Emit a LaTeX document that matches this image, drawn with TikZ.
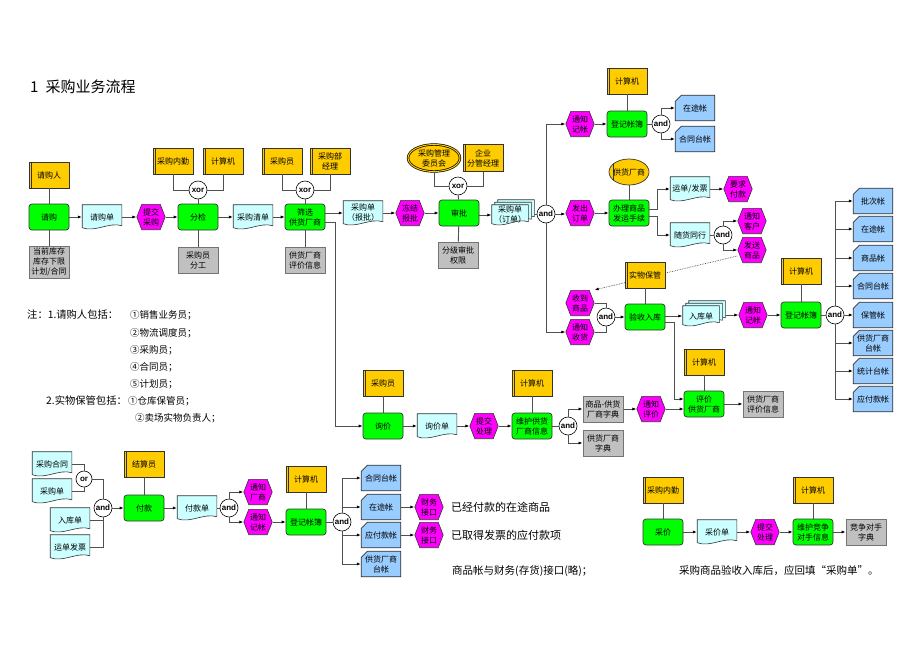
\documentclass[tikz,border=0pt]{standalone}
\usepackage{fontspec}
\setmainfont{Noto Sans CJK SC}
\newfontfamily\latsans{Liberation Sans}
\usetikzlibrary{arrows.meta,shapes.geometric,backgrounds}
\definecolor{fgreen}{RGB}{0,255,0}
\definecolor{oyel}{RGB}{255,204,0}
\definecolor{igray}{RGB}{192,192,192}
\definecolor{dcyan}{RGB}{204,255,255}
\definecolor{evm}{RGB}{255,0,255}
\definecolor{accb}{RGB}{153,204,255}
\definecolor{lnc}{RGB}{80,80,80}
\newcommand\bxf{\fontsize{8}{10}\selectfont}
\newcommand\cnf{\latsans\bfseries\fontsize{8}{8}\selectfont}
\newcommand\ntf{\fontsize{9.5}{11}\selectfont}
\newcommand\ntb{\fontsize{10.3}{11}\selectfont}
\newcommand\bgf{\fontsize{11}{13}\selectfont}
\newcommand\mdf{\fontsize{10.5}{12}\selectfont}
% shape drawers (node name, dx, dy)
\newcommand\docdraw[3]{\filldraw[fill=dcyan,draw=black!80,line width=0.6pt]
 ([shift={({#2+0.4},{#3+0.4})}]#1.north west) -- ([shift={({#2-0.4},{#3+0.4})}]#1.north east)
 -- ([shift={({#2-0.4},{#3-4})}]#1.south east)
 .. controls ([shift={({#2-13},{#3-8})}]#1.south east) and ([shift={({#2+13},{#3+3})}]#1.south west)
 .. ([shift={({#2+0.4},{#3-2})}]#1.south west) -- cycle;}
\newcommand\stackdraw[1]{\docdraw{#1}{6}{-5}\docdraw{#1}{3}{-2.5}\docdraw{#1}{0}{0}}
\newcommand\evdraw[1]{\filldraw[fill=evm,draw=black!80,line width=0.6pt]
 ([shift={(0.5,0)}]#1.west) -- ([shift={(5.5,0.5)}]#1.north west) -- ([shift={(-5.5,0.5)}]#1.north east)
 -- ([shift={(-0.5,0)}]#1.east) -- ([shift={(-5.5,-0.5)}]#1.south east) -- ([shift={(5.5,-0.5)}]#1.south west) -- cycle;}
\newcommand\acdraw[1]{\filldraw[fill=accb,draw=black!80,line width=0.7pt]
 ([shift={(0.4,6.5)}]#1.north west) -- ([shift={(6.5,0.4)}]#1.north west) -- ([shift={(-0.4,0.4)}]#1.north east)
 -- ([shift={(-0.4,-0.4)}]#1.south east) -- ([shift={(0.4,-0.4)}]#1.south west) -- cycle;}
\tikzset{
 bx/.style={inner sep=0pt, align=center, font=\bxf, text=black},
 fn/.style={bx, rectangle, rounded corners=3pt, fill=fgreen, draw=black!80, line width=0.7pt, minimum width=40pt, minimum height=26pt},
 org/.style={bx, rectangle, fill=oyel, draw=black!80, line width=0.7pt, minimum width=40pt, minimum height=26pt,
   path picture={\draw[black!80,line width=0.7pt] ([xshift=2.6pt]path picture bounding box.north west) -- ([xshift=2.6pt]path picture bounding box.south west);}},
 orge/.style={bx, ellipse, inner xsep=-2pt, fill=oyel, draw=black!80, line width=0.7pt, minimum width=40pt, minimum height=26pt,
   path picture={\draw[black!80,line width=0.7pt] ([xshift=4pt]path picture bounding box.north west) -- ([xshift=4pt]path picture bounding box.south west);}},
 orgd/.style={bx, ellipse, fill=oyel, draw=black, line width=0.7pt, double=oyel, double distance=1pt, minimum width=52pt, minimum height=27pt},
 inf/.style={bx, rectangle, fill=igray, draw=black!55, line width=1pt, minimum width=40pt, minimum height=26pt},
 doc/.style={bx, rectangle, minimum width=40pt, minimum height=25pt},
 docs/.style={bx, rectangle, minimum width=37pt, minimum height=21pt},
 evt/.style={bx, rectangle, minimum width=29pt, minimum height=26pt},
 acc/.style={bx, rectangle, minimum width=40pt, minimum height=26pt},
 con/.style={circle, draw=black, fill=white, line width=0.6pt, minimum size=18pt, inner sep=0pt, font=\cnf},
 ar/.style={draw=lnc, line width=0.8pt, -{Latex[length=4pt,width=3.2pt,black]}},
 ln/.style={draw=lnc, line width=0.9pt},
 txt/.style={anchor=west, inner sep=0pt, text=black},
}
\begin{document}
\begin{tikzpicture}[x=1pt,y=-1pt]
\begin{pgfonlayer}{background}
\fill[white] (0,0) rectangle (920,651);
\end{pgfonlayer}
\useasboundingbox (0,0) rectangle (920,651);

\node[txt, font=\fontsize{15}{15}\selectfont] (title) at (30,87) {1\hspace{7pt}采购业务流程};

% ---------- top row ----------
\node[org] (o1) at (49,175) {请购人};
\node[fn] (f1) at (49,217) {请购};
\node[inf, minimum height=32pt] (i1) at (49,262) {当前库存\\库存下限\\计划/合同};
\node[doc] (d1) at (102,217) {请购单};
\node[evt] (e1) at (151,217) {提交\\采购};
\node[fn] (f2) at (198,217) {分检};
\node[org] (o2) at (173,161) {采购内勤};
\node[org] (o3) at (223,161) {计算机};
\node[con] (x1) at (198,190) {xor};
\node[inf] (i2) at (198,260) {采购员\\分工};
\node[doc] (d2) at (253,217) {采购清单};
\node[fn] (f3) at (305,217) {筛选\\供货厂商};
\node[org] (o4) at (282,161) {采购员};
\node[org] (o5) at (330,161) {采购部\\经理};
\node[con] (x2) at (305,190) {xor};
\node[inf] (i3) at (305,260) {供货厂商\\评价信息};
\node[doc] (d3) at (363,213) {采购单\\（报批）};
\node[evt] (e2) at (410,213) {冻结\\报批};
\node[fn] (f4) at (459,213) {审批};
\node[orgd] (o6) at (434,158) {采购管理\\委员会};
\node[org, minimum height=27pt] (o7) at (483,158) {企业\\分管经理};
\node[con] (x3) at (458,186) {xor};
\node[inf] (i4) at (458,255) {分级审批\\权限};
\node[docs] (d4) at (510,215) {采购单\\（订单）};
\node[con] (a1) at (546,214) {and};

\node[evt] (e3) at (580,124) {通知\\记帐};
\node[fn] (f5) at (627,124) {登记帐簿};
\node[org] (o8) at (627,81) {计算机};
\node[con] (a2) at (661,124) {and};
\node[acc] (k1) at (695,108) {在途帐};
\node[acc] (k2) at (695,139) {合同台帐};

\node[evt] (e4) at (580,213) {发出\\订单};
\node[fn] (f6) at (629,213) {办理商品\\发运手续};
\node[orge] (o9) at (629,172) {供货厂商};
\node[doc] (d5) at (690,189) {运单/发票};
\node[evt] (e5) at (738,189) {要求\\付款};
\node[doc] (d6) at (690,235) {随货同行};
\node[con] (a3) at (723,235) {and};
\node[evt] (e6) at (752,221) {通知\\客户};
\node[evt] (e7) at (752,250) {发送\\商品};

\node[org] (o10) at (645,275) {实物保管};
\node[evt] (e8) at (580,303) {收到\\商品};
\node[evt] (e9) at (580,332) {通知\\收货};
\node[con] (a4) at (606,317) {and};
\node[fn] (f7) at (645,317) {验收入库};
\node[docs] (d7) at (701,316) {入库单};
\node[evt] (e10) at (753,315) {通知\\记帐};
\node[fn] (f8) at (801,315) {登记帐簿};
\node[org] (o11) at (801,271) {计算机};
\node[con] (a5) at (835,315) {and};
\node[acc] (k3) at (873,201) {批次帐};
\node[acc] (k4) at (873,229) {在途帐};
\node[acc] (k5) at (873,258) {商品帐};
\node[acc] (k6) at (873,286) {合同台帐};
\node[acc] (k7) at (873,315) {保管帐};
\node[acc] (k8) at (873,343) {供货厂商\\台帐};
\node[acc] (k9) at (873,371) {统计台帐};
\node[acc] (k10) at (873,399) {应付款帐};

% ---------- middle row ----------
\node[org] (o12) at (383,383) {采购员};
\node[fn] (f9) at (383,426) {询价};
\node[doc] (d8) at (437,426) {询价单};
\node[evt] (e11) at (484,426) {提交\\处理};
\node[org] (o13) at (532,383) {计算机};
\node[fn] (f10) at (532,426) {维护供货\\厂商信息};
\node[con] (a6) at (568,426) {and};
\node[inf] (i5) at (603,409) {商品-供货\\厂商字典};
\node[inf] (i6) at (603,443) {供货厂商\\字典};
\node[evt] (e12) at (651,409) {通知\\评价};
\node[org] (o14) at (704,362) {计算机};
\node[fn] (f11) at (704,404) {评价\\供货厂商};
\node[inf] (i7) at (763,404) {供货厂商\\评价信息};

% ---------- bottom row ----------
\node[doc] (d9) at (52,464) {采购合同};
\node[doc] (d10) at (52,491) {采购单};
\node[con, minimum size=16pt] (x4) at (84,479) {or};
\node[doc] (d11) at (70,520) {入库单};
\node[doc] (d12) at (70,547) {运单发票};
\node[con] (a7) at (103,508) {and};
\node[org] (o15) at (144,464) {结算员};
\node[fn] (f12) at (144,508) {付款};
\node[doc] (d13) at (197,508) {付款单};
\node[con] (a8) at (229,508) {and};
\node[evt] (e13) at (258,492) {通知\\厂商};
\node[evt] (e14) at (258,522) {通知\\记帐};
\node[org] (o16) at (306,479) {计算机};
\node[fn] (f13) at (306,522) {登记帐簿};
\node[con] (a9) at (342,522) {and};
\node[acc] (k11) at (381,478) {合同台帐};
\node[acc] (k12) at (381,507) {在途帐};
\node[acc] (k13) at (381,535) {应付款帐};
\node[acc] (k14) at (381,564) {供货厂商\\台帐};
\node[evt] (e15) at (429,507) {财务\\接口};
\node[evt] (e16) at (429,535) {财务\\接口};

\node[org] (o17) at (663,490) {采购内勤};
\node[fn] (f14) at (663,532) {采价};
\node[doc] (d14) at (717,532) {采价单};
\node[evt] (e17) at (765,532) {提交\\处理};
\node[org] (o18) at (813,490) {计算机};
\node[fn] (f15) at (813,532) {维护竞争\\对手信息};
\node[inf] (i8) at (866,532) {竞争对手\\字典};

% ---------- shapes of documents, events, accounts ----------
\begin{pgfonlayer}{background}
\foreach \n in {d1,d2,d3,d5,d6,d8,d9,d10,d11,d12,d13,d14} {\docdraw{\n}{0}{0}}
\foreach \n in {d4,d7} {\stackdraw{\n}}
\foreach \n in {e1,e2,e3,e4,e5,e6,e7,e8,e9,e10,e11,e12,e13,e14,e15,e16,e17} {\evdraw{\n}}
\foreach \n in {k1,k2,k3,k4,k5,k6,k7,k8,k9,k10,k11,k12,k13,k14} {\acdraw{\n}}
\draw[densely dotted, draw=black!70, line width=0.7pt, -{Latex[length=4pt,width=3pt,black]}] ([yshift=-6pt]e7.west) -- (e8.north east);
\end{pgfonlayer}

% ---------- texts ----------
\node[txt, font=\ntb] (n1) at (27,315) {注：1.请购人包括：};
\node[txt, font=\ntf] (n1a) at (130,315) {①销售业务员；};
\node[txt, font=\ntf] (n1b) at (130,333) {②物流调度员；};
\node[txt, font=\ntf] (n1c) at (130,350) {③采购员；};
\node[txt, font=\ntf] (n1d) at (130,367) {④合同员；};
\node[txt, font=\ntf] (n1e) at (130,384) {⑤计划员；};
\node[txt, font=\ntb] (n2) at (46,401) {2.实物保管包括：};
\node[txt, font=\ntf] (n2a) at (128,401) {①仓库保管员；};
\node[txt, font=\ntf] (n2b) at (135,418) {②卖场实物负责人；};

\node[txt, font=\bgf] (t1) at (451,507) {已经付款的在途商品};
\node[txt, font=\bgf] (t2) at (451,535) {已取得发票的应付款项};
\node[txt, font=\mdf] (t3) at (452,571) {商品帐与财务(存货)接口(略)；};
\node[txt, font=\mdf] (t4) at (679,571) {采购商品验收入库后，应回填“采购单”。};

% ---------- connectors ----------
\draw[ln] (o1) -- (f1);
\draw[ln] (f1) -- (i1);
\draw[ar] (f1) -- (d1);
\draw[ar] (d1) -- (e1);
\draw[ar] (e1) -- (f2);
\draw[ln] (o2.south) |- (x1.west);
\draw[ln] (o3.south) |- (x1.east);
\draw[ln] (x1) -- (f2);
\draw[ln] (f2) -- (i2);
\draw[ar] (f2) -- (d2);
\draw[ar] (d2) -- (f3);
\draw[ln] (o4.south) |- (x2.west);
\draw[ln] (o5.south) |- (x2.east);
\draw[ln] (x2) -- (f3);
\draw[ln] (f3) -- (i3);
\draw[ar] (f3.east |- d3.west) -- (d3.west);
\draw[ar] ([yshift=-5pt]f3.east) -- ++(10,0) |- (f9.west);
\draw[ar] (d3) -- (e2);
\draw[ar] (e2) -- (f4);
\draw[ln] (o6.south) |- (x3.west);
\draw[ln] (o7.south) |- (x3.east);
\draw[ln] (x3) -- (f4);
\draw[ln] (f4) -- (i4);
\draw[ar] (f4.east |- d4.west) -- (d4.west);
\draw[ln] ([xshift=6pt]d4.east |- a1.west) -- (a1.west);
\draw[ar] (a1.north) |- (e3.west);
\draw[ar] (a1.east) -- (a1.east -| e4.west);
\draw[ar] (a1.south) |- (e9.west);
\draw[ar] (e3) -- (f5);
\draw[ln] (o8) -- (f5);
\draw[ln] (f5) -- (a2);
\draw[ar] (a2.north) |- (k1.west);
\draw[ar] (a2.south) |- (k2.west);
\draw[ar] (e4) -- (f6);
\draw[ln] (o9) -- (f6);
\draw[ar] ([yshift=4pt]f6.east) -- ++(8,0) |- (d5.west);
\draw[ar] ([yshift=-3pt]f6.east) -- ++(8,0) |- (d6.west);
\draw[ar] (d5) -- (e5);
\draw[ln] (d6) -- (a3);
\draw[ar] (a3.north) |- (e6.west);
\draw[ar] (a3.south) |- (e7.west);
\draw[ln] (o10) -- (f7);
\draw[ln] (e8.east) -| (a4.north);
\draw[ln] (e9.east) -| (a4.south);
\draw[ar] (a4) -- (f7);
\draw[ar] (f7.east |- d7.west) -- (d7.west);
\draw[ar] ([yshift=-5pt]f7.east) -- ++(9,0) |- ([yshift=5pt]f11.west);
\draw[ar] ([xshift=6pt]d7.east |- e10.west) -- (e10.west);
\draw[ar] (e10) -- (f8);
\draw[ln] (o11) -- (f8);
\draw[ln] (f8) -- (a5);
\foreach \k in {k3,k4,k5,k6} {\draw[ar] (a5.north) |- (\k.west);}
\draw[ar] (a5) -- (k7);
\foreach \k in {k8,k9,k10} {\draw[ar] (a5.south) |- (\k.west);}

\draw[ln] (o12) -- (f9);
\draw[ar] (f9) -- (d8);
\draw[ar] (d8) -- (e11);
\draw[ar] (e11) -- (f10);
\draw[ln] (o13) -- (f10);
\draw[ln] (f10) -- (a6);
\draw[ar] (a6.north) |- (i5.west);
\draw[ar] (a6.south) |- (i6.west);
\draw[ar] (i5) -- (e12);
\draw[ar] (e12.east) -- (e12.east -| f11.west);
\draw[ln] (o14) -- (f11);
\draw[ar] (f11) -- (i7);

\draw[ln] (d9.east) -| (x4.north);
\draw[ln] (d10.east) -| (x4.south);
\draw[ln] (x4.east) -| (a7.north);
\draw[ln] (d11.east) -| (a7.south);
\draw[ln] (d12.east) -| (a7.south);
\draw[ar] (a7) -- (f12);
\draw[ln] (o15) -- (f12);
\draw[ar] (f12) -- (d13);
\draw[ln] (d13) -- (a8);
\draw[ar] (a8.north) |- (e13.west);
\draw[ar] (a8.south) |- (e14.west);
\draw[ar] (e14) -- (f13);
\draw[ln] (o16) -- (f13);
\draw[ln] (f13) -- (a9);
\draw[ar] (a9.north) |- (k11.west);
\draw[ar] (a9.north) |- (k12.west);
\draw[ar] (a9.south) |- (k13.west);
\draw[ar] (a9.south) |- (k14.west);
\draw[ar] (k12) -- (e15);
\draw[ar] (k13) -- (e16);

\draw[ln] (o17) -- (f14);
\draw[ar] (f14) -- (d14);
\draw[ar] (d14) -- (e17);
\draw[ar] (e17) -- (f15);
\draw[ln] (o18) -- (f15);
\draw[ar] (f15) -- (i8);
\end{tikzpicture}
\end{document}
